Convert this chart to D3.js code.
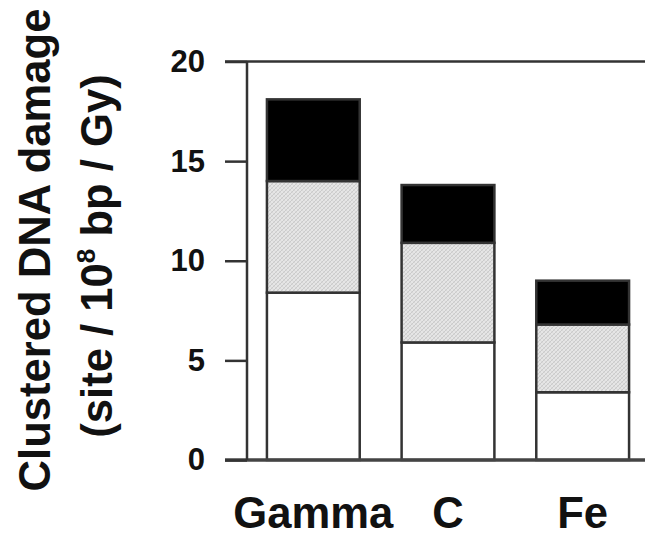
<!DOCTYPE html>
<html><head><meta charset="utf-8">
<script src="https://cdn.jsdelivr.net/npm/d3@7"></script>
<style>html,body{margin:0;padding:0;background:#fff;}svg{display:block;}</style>
</head><body>
<svg id="chart" width="645" height="536"></svg>
<script>
const categories = ["Gamma", "C", "Fe"];
const seriesKeys = ["white", "hatched", "black"];
const whiteValues = [8.4, 5.9, 3.4];
const hatchedValues = [5.6, 5.0, 3.4];
const blackValues = [4.1, 2.9, 2.2];
const yTicks = [0, 5, 10, 15, 20];

const rows = categories.map((c, i) => ({cat: c, white: whiteValues[i], hatched: hatchedValues[i], black: blackValues[i]}));

const svg = d3.select("#chart");
const defs = svg.append("defs");
const pat = defs.append("pattern").attr("id", "hatch").attr("patternUnits", "userSpaceOnUse")
  .attr("width", 4).attr("height", 4);
pat.append("rect").attr("width", 4).attr("height", 4).attr("fill", "#e6e6e6");
pat.append("path").attr("d", "M0,4 L4,0 M-1,1 L1,-1 M3,5 L5,3").attr("stroke", "#c4c4c4").attr("stroke-width", 0.8);
pat.append("path").attr("d", "M0,0 L4,4 M-1,3 L1,5 M3,-1 L5,1").attr("stroke", "#d0d0d0").attr("stroke-width", 0.6);

const axisX = 247, tickX = 225, rightX = 645;
const y = d3.scaleLinear().domain([0, 20]).range([460, 61.5]);
const x = d3.scaleBand().domain(categories).range([axisX, 649]).paddingInner(0.311).paddingOuter(0.148);

const fills = {white: "#ffffff", hatched: "url(#hatch)", black: "#000000"};
const stack = d3.stack().keys(seriesKeys)(rows);

const g = svg.append("g");
stack.forEach(layer => {
  g.selectAll(null).data(layer).enter().append("rect")
    .attr("x", d => x(d.data.cat))
    .attr("y", d => y(d[1]))
    .attr("width", x.bandwidth())
    .attr("height", d => y(d[0]) - y(d[1]))
    .attr("fill", fills[layer.key])
    .attr("stroke", "#333")
    .attr("stroke-width", 2.5);
});

// top frame line
svg.append("line").attr("x1", tickX).attr("x2", rightX).attr("y1", y(20)).attr("y2", y(20))
  .attr("stroke", "#333").attr("stroke-width", 2.5);
// bottom line
svg.append("line").attr("x1", tickX).attr("x2", rightX).attr("y1", y(0)).attr("y2", y(0))
  .attr("stroke", "#444").attr("stroke-width", 3.5);

// y axis
const yAxis = d3.axisLeft(y).tickValues(yTicks).tickSize(axisX - tickX).tickPadding(20).tickFormat(d3.format("d"));
const ya = svg.append("g").attr("transform", `translate(${axisX},0)`).call(yAxis);
ya.select(".domain").attr("stroke", "#333").attr("stroke-width", 2.5).attr("d", `M0,${y(0)}V${y(20)}`);
ya.selectAll(".tick line").attr("stroke", "#333").attr("stroke-width", 2.5);
ya.selectAll(".tick text").attr("font-family", "Liberation Sans, Arial, sans-serif")
  .attr("font-weight", "bold").attr("font-size", 31).attr("fill", "#111");

// x labels
svg.append("g").selectAll("text").data(categories).enter().append("text")
  .attr("x", d => x(d) + x.bandwidth() / 2)
  .attr("y", 528)
  .attr("text-anchor", "middle")
  .attr("font-family", "Liberation Sans, Arial, sans-serif")
  .attr("font-weight", "bold").attr("font-size", 43.6).attr("fill", "#111")
  .text(d => d);

// y title
const t1 = svg.append("text").attr("transform", "translate(50,250) rotate(-90)")
  .attr("text-anchor", "middle").attr("font-family", "Liberation Sans, Arial, sans-serif")
  .attr("font-weight", "bold").attr("font-size", 43.6).attr("fill", "#111")
  .text("Clustered DNA damage");
const t2 = svg.append("text").attr("transform", "translate(112,256) rotate(-90)")
  .attr("text-anchor", "middle").attr("font-family", "Liberation Sans, Arial, sans-serif")
  .attr("font-weight", "bold").attr("font-size", 43.6).attr("fill", "#111");
t2.append("tspan").text("(site / 10");
t2.append("tspan").attr("font-size", 26).attr("dy", -17).text("8");
t2.append("tspan").attr("dy", 17).text(" bp / Gy)");
</script>
</body></html>
